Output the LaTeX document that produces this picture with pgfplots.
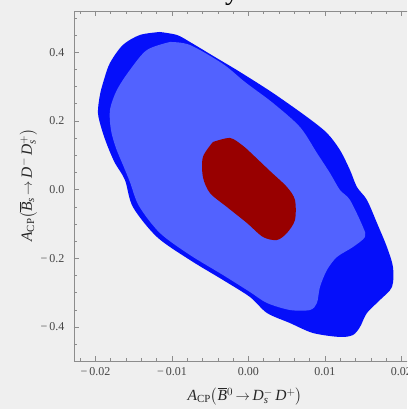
\documentclass[border=0pt]{standalone}
\usepackage{amsmath}
\usepackage{pgfplots}
\pgfplotsset{compat=1.18}
\usepackage{fontspec}
\setmainfont{Liberation Serif}
\definecolor{bgc}{RGB}{239,239,239}
\definecolor{framec}{RGB}{140,140,140}
\definecolor{ticklab}{RGB}{70,70,70}
\definecolor{dkblue}{RGB}{5,15,250}
\definecolor{ltblue}{RGB}{82,98,255}
\definecolor{dkred}{RGB}{152,0,0}
\begin{document}
\begin{tikzpicture}[x=1pt,y=1pt]
\useasboundingbox (0,0) rectangle (407,409);
\fill[bgc] (0,0) rectangle (407,409);
\clip (0,0) rectangle (407,409);
\node[anchor=base, font=\fontsize{28}{30}\selectfont] at (232,409) {y};
\begin{axis}[
  at={(74pt,47.7pt)}, anchor=south west,
  scale only axis, width=365.7pt, height=350.3pt,
  xmin=-0.0228, xmax=0.025, ymin=-0.5, ymax=0.52,
  scaled x ticks=false, scaled y ticks=false,
  axis line style={draw=framec, line width=0.6pt},
  xtick={-0.02,-0.01,0,0.01,0.02},
  xticklabels={−\,0.02,−\,0.01,0.00,0.01,0.02},
  minor xtick={-0.022,-0.020,...,0.024},
  ytick={-0.4,-0.2,0,0.2,0.4},
  yticklabels={−\,0.4,−\,0.2,0.0,0.2,0.4},
  minor ytick={-0.5,-0.45,...,0.5},
  tick align=inside, major tick length=5pt, minor tick length=3pt,
  tick style={draw=framec, line width=0.5pt},
  tick label style={font=\fontsize{12}{14}\selectfont, text=ticklab},
  xticklabel style={yshift=-3pt},
  yticklabel style={xshift=-6pt},
  every axis x label/.style={at={(axis cs:-0.00046,-0.5)}, yshift=-35pt, anchor=center},
  every axis y label/.style={at={(axis cs:-0.0228,0.013)}, xshift=-46pt, rotate=90, anchor=center},
  label style={font=\fontsize{15.5}{17}\selectfont, text=black!85},
  xlabel={\textit{A}\textsubscript{CP}$\bigl($$\overline{\mbox{\textit{B}}}{}^{0}$\,$\rightarrow$\,\textit{D}$^{-}_{\text{\itshape s}}$\,\textit{D}$^{+}\bigr)$},
  ylabel={\textit{A}\textsubscript{CP}$\bigl($$\overline{\mbox{\textit{B}}}_{\text{\itshape s}}$\,$\rightarrow$\,\textit{D}$^{-}$\,\textit{D}$^{+}_{\text{\itshape s}}\bigr)$},
]
\addplot[fill=dkblue, draw=none, smooth, tension=0.5] coordinates {
(-0.01157,0.4589) (-0.00935,0.4502) (-0.00765,0.4298) (-0.00438,0.3861) (-0.00111,0.3425) (0.00320,0.2813) (0.00765,0.2114) (0.01026,0.1648) (0.01196,0.1153) (0.01327,0.0571) (0.01418,0.0076) (0.01549,-0.0303) (0.01680,-0.0973) (0.01810,-0.1672) (0.01889,-0.2254) (0.01876,-0.2836) (0.01719,-0.3215) (0.01549,-0.3593) (0.01458,-0.4001) (0.01366,-0.4234) (0.01196,-0.4292) (0.00843,-0.4176) (0.00542,-0.3885) (0.00242,-0.3593) (0.00020,-0.3128) (-0.00333,-0.2632) (-0.00765,-0.2050) (-0.01196,-0.1380) (-0.01510,-0.0507) (-0.01614,0.0280) (-0.01745,0.0775) (-0.01837,0.1241) (-0.01915,0.1736) (-0.01967,0.2231) (-0.01941,0.2755) (-0.01889,0.3192) (-0.01810,0.3687) (-0.01641,0.4211) (-0.01418,0.4502) (-0.01157,0.4589)
} -- cycle;
\addplot[fill=ltblue, draw=none, smooth, tension=0.5] coordinates {
(-0.01026,0.4298) (-0.00765,0.4211) (-0.00333,0.3658) (-0.00046,0.3133) (0.00320,0.2522) (0.00673,0.1823) (0.00895,0.1066) (0.01065,0.0483) (0.01196,-0.0012) (0.01327,-0.0303) (0.01497,-0.1089) (0.01523,-0.1380) (0.01366,-0.1672) (0.01157,-0.1963) (0.01026,-0.2341) (0.00935,-0.2836) (0.00895,-0.3302) (0.00804,-0.3506) (0.00542,-0.3506) (0.00242,-0.3302) (0.00020,-0.2982) (-0.00333,-0.2487) (-0.00765,-0.1904) (-0.01157,-0.1264) (-0.01431,-0.0477) (-0.01549,0.0222) (-0.01640,0.0717) (-0.01732,0.1212) (-0.01797,0.1736) (-0.01810,0.2318) (-0.01719,0.2900) (-0.01549,0.3483) (-0.01327,0.4065) (-0.01026,0.4298)
} -- cycle;
\addplot[fill=dkred, draw=none, smooth, tension=0.5] coordinates {
(-0.00464,0.1386) (-0.00242,0.1503) (-0.00085,0.1299) (0.00020,0.1095) (0.00281,0.0542) (0.00503,0.0076) (0.00608,-0.0303) (0.00608,-0.0885) (0.00503,-0.1264) (0.00373,-0.1468) (0.00190,-0.1380) (-0.00020,-0.0972) (-0.00281,-0.0507) (-0.00503,-0.0099) (-0.00595,0.0367) (-0.00595,0.0949) (-0.00464,0.1386)
} -- cycle;
\end{axis}
\end{tikzpicture}
\end{document}
